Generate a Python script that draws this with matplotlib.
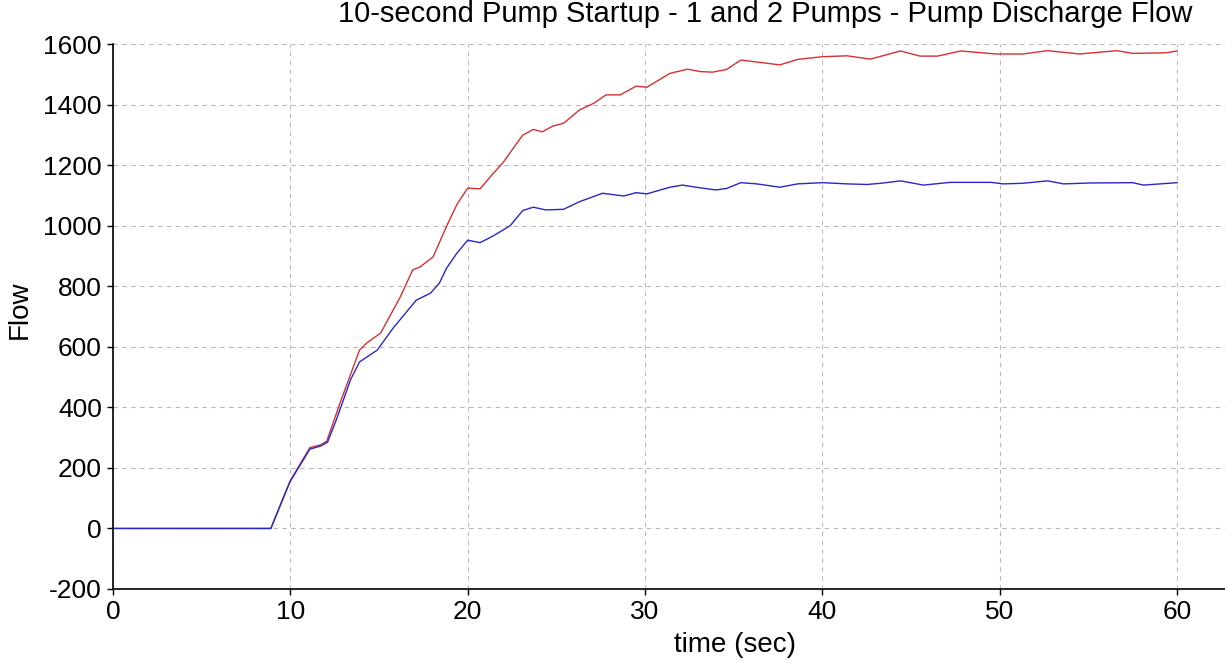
import matplotlib
matplotlib.use('Agg')
import matplotlib.pyplot as plt

plt.rcParams['font.family'] = ['Liberation Sans', 'DejaVu Sans']
plt.rcParams['axes.unicode_minus'] = False

# two pumps (red)
t_two = [0, 8.9, 9.8, 10.0, 11.1, 11.7, 12.05, 12.8, 13.9, 14.3,
         15.1, 16.2, 16.9, 17.3, 18.05, 18.8, 19.4, 20.0, 20.7, 21.4,
         22.0, 23.1, 23.7, 24.2, 24.8, 25.4, 26.3, 27.1, 27.8, 28.6,
         29.5, 30.1, 31.4, 32.4, 33.1, 33.8, 34.6, 35.4, 36.1, 37.6,
         38.6, 40.0, 41.4, 42.7, 44.4, 45.5, 46.5, 47.8, 49.8, 51.3,
         52.7, 54.5, 56.6, 57.5, 59.4, 60.0]
flow_two = [0, 0, 130, 158, 267, 276, 288, 414, 589, 612,
            646, 765, 854, 863, 897, 997, 1071, 1124, 1122, 1170,
            1209, 1299, 1318, 1310, 1329, 1338, 1382, 1404, 1432, 1432,
            1461, 1457, 1503, 1517, 1509, 1507, 1516, 1547, 1542, 1531,
            1549, 1558, 1561, 1550, 1577, 1560, 1560, 1577, 1567, 1567,
            1578, 1567, 1578, 1569, 1571, 1577]

# one pump (blue)
t_one = [0, 8.9, 9.8, 10.0, 11.1, 11.7, 12.1, 12.6, 13.4, 13.9,
         14.9, 15.8, 17.1, 17.9, 18.4, 18.8, 19.4, 20.0, 20.7, 21.4,
         22.4, 23.1, 23.7, 24.4, 25.4, 26.3, 27.6, 28.8, 29.5, 30.1,
         31.4, 32.1, 33.1, 34.0, 34.6, 35.4, 36.3, 37.6, 38.6, 40.0,
         41.4, 42.5, 43.3, 44.4, 45.7, 47.2, 49.5, 50.2, 51.3, 52.7,
         53.6, 55.1, 57.5, 58.1, 60.0]
flow_one = [0, 0, 129, 156, 262, 272, 285, 360, 492, 550,
            589, 662, 754, 777, 810, 859, 910, 952, 944, 965,
            1000, 1050, 1061, 1052, 1054, 1079, 1107, 1098, 1109, 1105,
            1127, 1134, 1125, 1118, 1123, 1142, 1138, 1127, 1138, 1142,
            1138, 1136, 1140, 1148, 1134, 1143, 1143, 1138, 1140, 1148,
            1138, 1141, 1142, 1134, 1142]

xticks = [0, 10, 20, 30, 40, 50, 60]
yticks = [-200, 0, 200, 400, 600, 800, 1000, 1200, 1400, 1600]

fig = plt.figure(figsize=(12.25, 6.66), dpi=100)
ax = fig.add_axes([113 / 1225, 1 - 589 / 666, 1112 / 1225, 545 / 666])

ax.plot(t_two, flow_two, color='#d83030', lw=1.0)
ax.plot(t_one, flow_one, color='#2828c8', lw=1.0)

ax.set_xlim(0, 62.7)
ax.set_ylim(-200, 1600)
ax.set_xticks(xticks)
ax.set_yticks(yticks)
ax.tick_params(labelsize=19, length=4, width=1, pad=4, color='black')

ax.grid(True, color='#b8b8b8', linestyle=(0, (4, 4)), lw=0.8)
ax.spines['top'].set_visible(False)
ax.spines['right'].set_visible(False)
ax.spines['left'].set_linewidth(1.2)
ax.spines['bottom'].set_linewidth(1.2)

fig.text(765 / 1225, 1 - 14 / 666, '10-second Pump Startup - 1 and 2 Pumps - Pump Discharge Flow',
         ha='center', va='center', fontsize=21)
fig.text(735 / 1225, 1 - 645 / 666, 'time (sec)', ha='center', va='center', fontsize=20)
fig.text(20 / 1225, 1 - 310 / 666, 'Flow', ha='center', va='center', rotation=90, fontsize=20)

fig.savefig('out.png', dpi=100)
